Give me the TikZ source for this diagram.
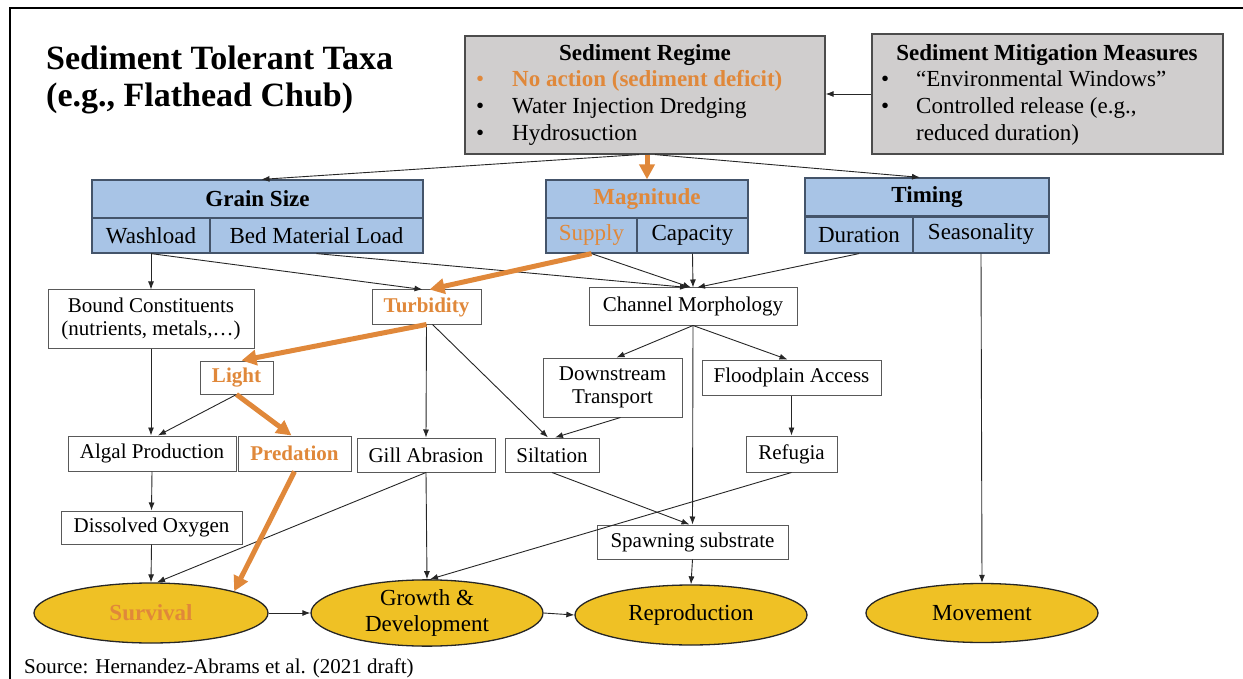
\documentclass[tikz,border=0pt]{standalone}
\usepackage{fontspec}
\setmainfont{Liberation Serif}
\usetikzlibrary{arrows.meta,shapes.geometric,calc}
\definecolor{orng}{HTML}{E0883A}
\definecolor{bluefill}{HTML}{A8C4E6}
\definecolor{bluebd}{HTML}{44546A}
\definecolor{grayfill}{HTML}{D0CECE}
\definecolor{gold}{HTML}{EFC125}
\newcommand\fbody{\fontsize{21}{23}\selectfont}
\newcommand\ftop{\fontsize{23}{26}\selectfont}
\newcommand\foval{\fontsize{23}{26}\selectfont}
\newcommand\fttl{\fontsize{34}{40}\selectfont\bfseries}
\begin{document}
\begin{tikzpicture}[x=1pt,y=-1pt,
  tarrow/.style={draw=black!85, line width=0.9pt, -{Latex[length=8pt,width=6pt]}},
  oarrow/.style={draw=orng, line width=5pt, -{Triangle[length=15pt,width=15pt]}},
  wbox/.style={draw=black!65, fill=white, line width=1pt, inner sep=0pt, font=\fbody, align=center},
  bbox/.style={draw=bluebd, fill=bluefill, line width=1.2pt, inner sep=0pt, font=\ftop},
  gbox/.style={draw=black!70, fill=grayfill, line width=1.2pt, inner sep=0pt},
  oval/.style={ellipse, draw=black!85, fill=gold, line width=1.3pt, inner sep=0pt, font=\foval, align=center},
  txt/.style={inner sep=0pt, font=\ftop},
]
\useasboundingbox (0,0) rectangle (1243,679);
% frame
\draw[line width=2pt] (10,679) -- (10,8) -- (1243,8);
% title
\node[anchor=base west, inner sep=0pt, font=\fttl] (t1) at (46,70) {Sediment Tolerant Taxa};
\node[anchor=base west, inner sep=0pt, font=\fttl] (t2) at (46,107) {(e.g., Flathead Chub)};
% Sediment regime
\node[gbox, minimum width=360, minimum height=118] (sr) at (645,95) {};
\node[txt, anchor=base, font=\ftop\bfseries] (srt) at (645,61) {Sediment Regime};
\node[txt, anchor=base west, text=orng] (b1) at (476,87) {•};
\node[txt, anchor=base west, text=orng, font=\ftop\bfseries] (s1) at (512,87) {No action (sediment deficit)};
\node[txt, anchor=base west] (b2) at (476,114) {•};
\node[txt, anchor=base west] (s2) at (512,114) {Water Injection Dredging};
\node[txt, anchor=base west] (b3) at (476,141) {•};
\node[txt, anchor=base west] (s3) at (512,141) {Hydrosuction};
% Mitigation
\node[gbox, minimum width=351, minimum height=120] (mm) at (1047.5,94) {};
\node[txt, anchor=base, font=\ftop\bfseries] (mmt) at (1047,61) {Sediment Mitigation Measures};
\node[txt, anchor=base west] (m1b) at (881,87) {•};
\node[txt, anchor=base west] (m1) at (916,87) {“Environmental Windows”};
\node[txt, anchor=base west] (m2b) at (881,114) {•};
\node[txt, anchor=base west] (m2) at (916,114) {Controlled release (e.g.,};
\node[txt, anchor=base west] (m3) at (916,141) {reduced duration)};
% Grain size
\node[bbox, minimum width=331, minimum height=38, font=\ftop\bfseries] (gsh) at (257.5,199) {Grain Size};
\node[bbox, minimum width=118, minimum height=35] (wash) at (151,235.5) {Washload};
\node[bbox, minimum width=213, minimum height=35] (bml) at (316.5,235.5) {Bed Material Load};
% Magnitude
\node[bbox, minimum width=202, minimum height=38, font=\ftop\bfseries, text=orng] (magh) at (647,199) {Magnitude};
\node[bbox, minimum width=91, minimum height=35, text=orng] (sup) at (591.5,235.5) {Supply};
\node[bbox, minimum width=111, minimum height=35] (cap) at (692.5,235.5) {Capacity};
% Timing
\node[bbox, minimum width=244, minimum height=38, font=\ftop\bfseries] (timh) at (927,197) {Timing};
\node[bbox, minimum width=108, minimum height=37] (dur) at (859,234.5) {Duration};
\node[bbox, minimum width=136, minimum height=37] (sea) at (981,234.5) {Seasonality};
\draw[bluebd, line width=2.2pt] (timh.south west) -- (timh.south east);
% middle boxes
\node[wbox, minimum width=206, minimum height=58] (bc) at (151,319) {Bound Constituents\\(nutrients, metals,…)};
\node[wbox, minimum width=109, minimum height=34, text=orng, font=\fbody\bfseries] (tur) at (426.5,307) {Turbidity};
\node[wbox, minimum width=208, minimum height=37] (chm) at (693,306.5) {Channel Morphology};
\node[wbox, minimum width=73, minimum height=33, text=orng, font=\fbody\bfseries] (light) at (236.5,377.5) {Light};
\node[wbox, minimum width=139, minimum height=59] (dst) at (612.5,387.5) {Downstream\\Transport};
\node[wbox, minimum width=179, minimum height=35] (fpa) at (791.5,377.5) {Floodplain Access};
\node[wbox, minimum width=168, minimum height=35] (alg) at (152,453.5) {Algal Production};
\node[wbox, minimum width=113, minimum height=35, text=orng, font=\fbody\bfseries] (pred) at (294.5,453.5) {Predation};
\node[wbox, minimum width=138, minimum height=34] (gill) at (426,455) {Gill Abrasion};
\node[wbox, minimum width=94, minimum height=34] (silt) at (552,455) {Siltation};
\node[wbox, minimum width=91, minimum height=36] (ref) at (791.5,454) {Refugia};
\node[wbox, minimum width=181, minimum height=33] (dox) at (151.5,527.5) {Dissolved Oxygen};
\node[wbox, minimum width=191, minimum height=34] (spw) at (692.5,542) {Spawning substrate};
% outcomes
\node[oval, minimum width=234, minimum height=60, text=orng, font=\foval\bfseries] (surv) at (151,613) {Survival};
\node[oval, minimum width=232, minimum height=60] (grow) at (427,613) {Growth \&\\Development};
\node[oval, minimum width=232, minimum height=60] (repr) at (691,615) {Reproduction};
\node[oval, minimum width=232, minimum height=59] (mov) at (982,613) {Movement};
% source
\node[anchor=base west, inner sep=0pt, font=\fbody] (src) at (24,673) {Source: Hernandez-Abrams et al. (2021 draft)};
% thin connectors
\draw[tarrow] (mm.west) -- (sr.east |- mm.west);
\draw[tarrow] ($(sr.south)+(-6,0)$) -- ($(gsh.north)+(4,0)$);
\draw[tarrow] ($(sr.south)+(10,0)$) -- ($(timh.north)+(-7,0)$);
\draw[tarrow] (wash.south) -- (bc.north);
\draw[tarrow] (wash.south) -- ($(tur.north)+(-4,0)$);
\draw[tarrow] (bml.south) -- ($(chm.north)+(-5,0)$);
\draw[tarrow] (sup.south) -- ($(chm.north)+(-2,0)$);
\draw[tarrow] (cap.south) -- (chm.north);
\draw[tarrow] (dur.south) -- ($(chm.north)+(4,0)$);
\draw[tarrow] (sea.south) -- (mov.north);
\draw[tarrow] (bc.south) -- ($(alg.north)+(-1,0)$);
\draw[tarrow] (tur.south) -- (gill.north);
\draw[tarrow] ($(tur.south)+(6,0)$) -- ($(silt.north)+(-4,0)$);
\draw[tarrow] (chm.south) -- ($(dst.north)+(4,0)$);
\draw[tarrow] (chm.south) -- ($(fpa.north)+(-4,0)$);
\draw[tarrow] (chm.south) -- (spw.north);
\draw[tarrow] (fpa.south) -- (ref.north);
\draw[tarrow] ($(dst.south)+(8,0)$) -- ($(silt.north)+(3,0)$);
\draw[tarrow] (light.south) -- ($(alg.north)+(6,0)$);
\draw[tarrow] (alg.south) -- (dox.north);
\draw[tarrow] (dox.south) -- (surv.north);
\draw[tarrow] (gill.south) -- ($(surv.north)+(6,0)$);
\draw[tarrow] (gill.south) -- (grow.north);
\draw[tarrow] (silt.south) -- ($(spw.north)+(-3,0)$);
\draw[tarrow] (ref.south) -- ($(grow.north)+(3,0)$);
\draw[tarrow] (spw.south) -- (repr.north);
\draw[tarrow] (surv.east) -- (grow.west);
\draw[tarrow] (grow.east) -- (repr.west);
% orange connectors
\draw[oarrow] ($(sr.south)+(2,0)$) -- (magh.north);
\draw[oarrow] (sup.south) -- ($(tur.north)+(3,0)$);
\draw[oarrow] (tur.south) -- ($(light.north)+(5,0)$);
\draw[oarrow] (light.south) -- ($(pred.north)+(-3,0)$);
\draw[oarrow] (pred.south) -- (surv.north east);
\end{tikzpicture}
\end{document}
